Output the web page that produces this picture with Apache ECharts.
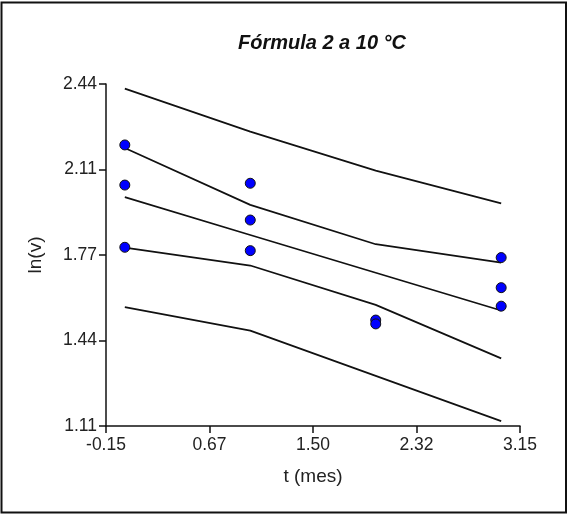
<!DOCTYPE html>
<html>
<head>
<meta charset="utf-8">
<script src="https://cdn.jsdelivr.net/npm/echarts@6/dist/echarts.min.js"></script>
<style>
html,body{margin:0;padding:0;background:#fff;}
#chart{width:567px;height:514px;}
</style>
</head>
<body>
<div id="chart"></div>
<script>
// Curve time points (months)
var curveT = [0, 1, 2, 3];
var upperPred = [2.422, 2.255, 2.103, 1.976];
var upperConf = [2.191, 1.970, 1.817, 1.745];
var fitLine   = [2.000, 1.853, 1.706, 1.559];
var lowerConf = [1.804, 1.734, 1.581, 1.373];
var lowerPred = [1.572, 1.481, 1.305, 1.129];

// Observations
var obsT = [0, 0, 0, 1, 1, 1, 2, 2, 3, 3, 3];
var obsV = [2.203, 2.047, 1.805, 2.054, 1.911, 1.792, 1.522, 1.507, 1.765, 1.648, 1.576];

// Axis ticks
var xTickValues = [-0.15, 0.675, 1.5, 2.325, 3.15];
var xTickLabels = ['-0.15', '0.67', '1.50', '2.32', '3.15'];
var yTickValues = [1.11, 1.4425, 1.775, 2.1075, 2.44];
var yTickLabels = ['1.11', '1.44', '1.77', '2.11', '2.44'];

function pairs(xs, ys) { return xs.map(function (x, i) { return [x, ys[i]]; }); }
function labelFor(vals, labs) {
  return function (v) {
    var best = 0, bd = Infinity;
    for (var i = 0; i < vals.length; i++) {
      var d = Math.abs(vals[i] - v);
      if (d < bd) { bd = d; best = i; }
    }
    return labs[best];
  };
}

var textColor = '#222';
var font = 'Arial, "Liberation Sans", sans-serif';

function lineSeries(vals) {
  return {
    type: 'line',
    data: pairs(curveT, vals),
    symbol: 'none',
    lineStyle: { color: '#111', width: 1.7 },
    silent: true,
    z: 2
  };
}

var chart = echarts.init(document.getElementById('chart'), null, { renderer: 'canvas' });
chart.setOption({
  backgroundColor: '#fff',
  animation: false,
  title: {
    text: 'Fórmula 2 a 10 °C',
    left: 317,
    textAlign: 'center',
    top: 28,
    textStyle: { fontFamily: font, fontSize: 20, fontWeight: 'bold', fontStyle: 'italic', color: '#111' }
  },
  grid: { left: 106, right: 47, top: 84, bottom: 88, containLabel: false },
  xAxis: {
    type: 'value',
    min: -0.15,
    max: 3.15,
    name: 't (mes)',
    nameLocation: 'middle',
    nameGap: 41,
    nameTextStyle: { fontFamily: font, fontSize: 19, color: textColor },
    axisLine: { show: true, onZero: false, lineStyle: { color: '#111', width: 1.5 } },
    axisTick: { show: true, length: 7, customValues: xTickValues, lineStyle: { color: '#111', width: 1.5 } },
    axisLabel: { customValues: xTickValues, margin: 10, fontFamily: font, fontSize: 17.5, color: textColor, formatter: labelFor(xTickValues, xTickLabels) },
    splitLine: { show: false }
  },
  yAxis: {
    type: 'value',
    min: 1.11,
    max: 2.44,
    name: 'ln(v)',
    nameLocation: 'middle',
    nameGap: 61,
    nameTextStyle: { fontFamily: font, fontSize: 19, color: textColor },
    axisLine: { show: true, onZero: false, lineStyle: { color: '#111', width: 1.5 } },
    axisTick: { show: true, length: 7, customValues: yTickValues, lineStyle: { color: '#111', width: 1.5 } },
    axisLabel: { customValues: yTickValues, margin: 9, fontFamily: font, fontSize: 17.5, color: textColor, formatter: labelFor(yTickValues, yTickLabels) },
    splitLine: { show: false }
  },
  graphic: [{
    type: 'rect',
    shape: { x: 1.5, y: 2.5, width: 564.5, height: 510 },
    style: { fill: 'none', stroke: '#111', lineWidth: 2 },
    silent: true,
    z: 100
  }],
  series: [
    lineSeries(upperPred),
    lineSeries(upperConf),
    lineSeries(fitLine),
    lineSeries(lowerConf),
    lineSeries(lowerPred),
    {
      type: 'scatter',
      data: pairs(obsT, obsV),
      symbol: 'circle',
      symbolSize: 10,
      itemStyle: { color: '#0000ff', opacity: 1, borderColor: '#111', borderWidth: 1 },
      z: 5
    }
  ]
});
</script>
</body>
</html>
